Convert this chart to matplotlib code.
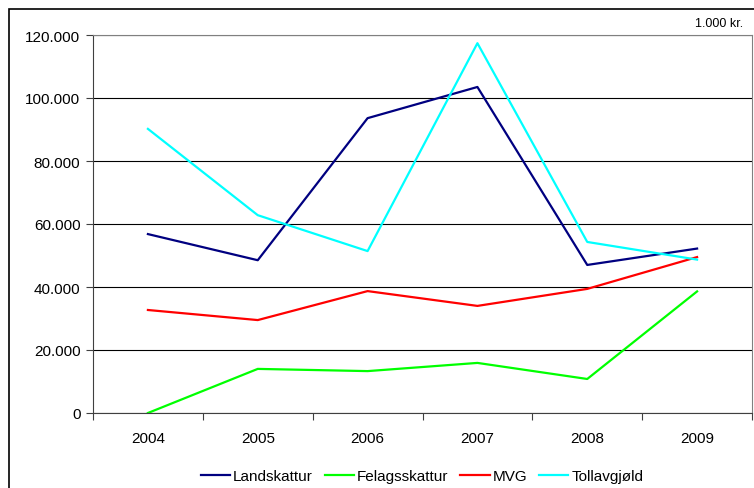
import numpy as np
import matplotlib
matplotlib.use("Agg")
import matplotlib.pyplot as plt
from matplotlib.patches import Rectangle
from matplotlib.ticker import FuncFormatter

plt.rcParams['font.family'] = ['Liberation Sans', 'DejaVu Sans']

years = ['2004', '2005', '2006', '2007', '2008', '2009']
landskattur = [56800, 48500, 93600, 103500, 47000, 52200]
felagsskattur = [0, 14000, 13300, 15900, 10800, 38600]
mvg = [32700, 29500, 38700, 34000, 39400, 49500]
tollavgjold = [90200, 62800, 51400, 117400, 54300, 48700]

fig = plt.figure(figsize=(7.54, 4.89), dpi=100)
ax = fig.add_axes([93/754, 1-414/489, (752-93)/754, (414-36)/489])

x = np.arange(len(years))
ax.plot(x, landskattur, color='#000080', lw=1.6, label='Landskattur')
ax.plot(x, felagsskattur, color='#00FF00', lw=1.6, label='Felagsskattur')
ax.plot(x, mvg, color='#FF0000', lw=1.6, label='MVG')
ax.plot(x, tollavgjold, color='#00FFFF', lw=1.6, label='Tollavgjøld')

ax.set_xlim(-0.5, len(years) - 0.5)
ax.set_ylim(0, 120000)
ax.set_yticks(np.arange(0, 120001, 20000))
ax.yaxis.set_major_formatter(FuncFormatter(lambda v, p: f'{int(v):,}'.replace(',', '.')))
ax.grid(axis='y', color='black', lw=0.8)
ax.set_axisbelow(True)

ax.set_xticks(np.arange(-0.5, len(years), 1.0))
ax.set_xticklabels([])
ax.set_xticks(x, minor=True)
ax.set_xticklabels(years, minor=True)
ax.tick_params(axis='x', which='minor', length=0, pad=13, labelsize=11)
ax.tick_params(axis='x', which='major', length=5, direction='out', color='#404040')
ax.tick_params(axis='y', length=5, direction='out', labelsize=11, pad=4, color='#404040')

for s in ['left', 'bottom']:
    ax.spines[s].set_color('#404040')
for s in ['top', 'right']:
    ax.spines[s].set_color('#808080')

fig.text(743/754, 1-24/489, '1.000 kr.', ha='right', va='center', fontsize=9)

fig.legend(loc='center', bbox_to_anchor=(422/754, 1-477/489), ncol=4, frameon=False,
           fontsize=11, handlelength=1.9, handletextpad=0.2, columnspacing=0.8)

fig.patches.append(Rectangle((9/754, -0.05), 1.0, 1.05-10/489, transform=fig.transFigure,
                             fill=False, edgecolor='black', lw=1.2))

fig.savefig('out.png', dpi=100)
